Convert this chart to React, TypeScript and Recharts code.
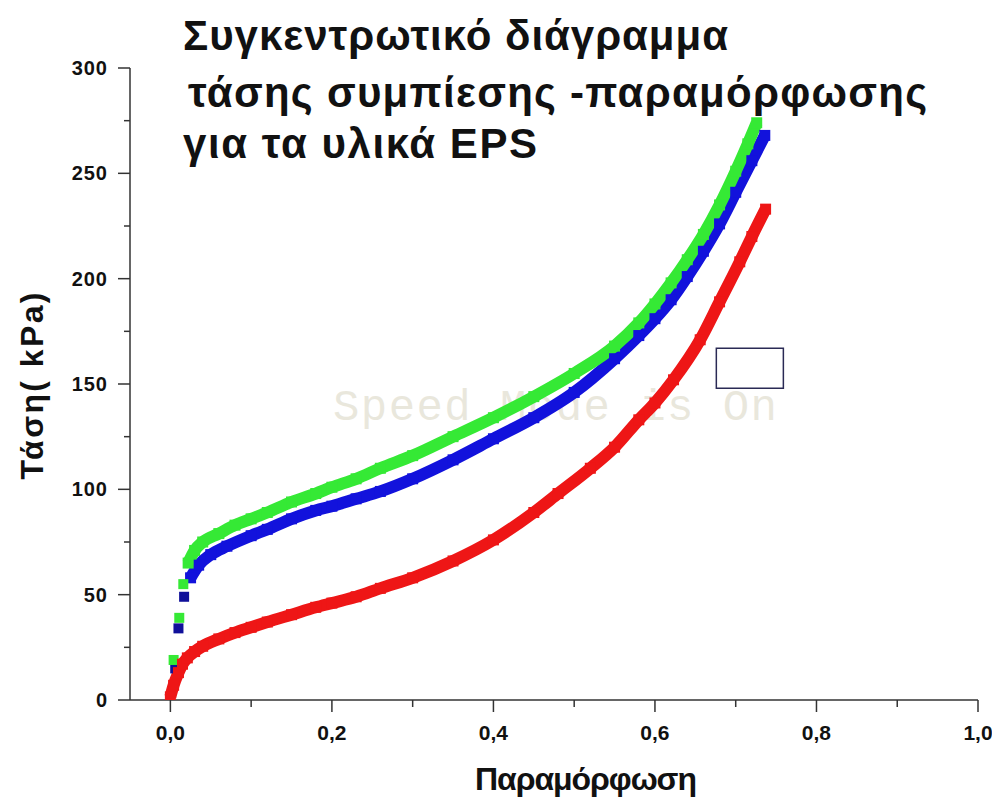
import { ComposedChart, Line, Scatter, XAxis, YAxis, ReferenceArea } from "recharts";

// strain (x) / stress in kPa (y)
const greenStartStrain = [0.004, 0.011, 0.016];
const greenStartStress = [19, 39, 55];
const greenStrain = [0.022, 0.03, 0.04, 0.06, 0.08, 0.1, 0.12, 0.15, 0.18, 0.2, 0.23, 0.26, 0.3, 0.35, 0.4, 0.45, 0.5, 0.55, 0.58, 0.6, 0.62, 0.64, 0.66, 0.68, 0.7, 0.715, 0.726];
const greenStress = [65, 71, 75, 79, 83, 86, 89, 94, 98, 101, 105, 110, 116, 125, 134, 144, 155, 168, 179, 188, 198, 209, 221, 235, 251, 264, 274];

const blueStartStrain = [0.006, 0.01, 0.017];
const blueStartStress = [15, 34, 49];
const blueStrain = [0.025, 0.035, 0.05, 0.07, 0.1, 0.12, 0.15, 0.18, 0.2, 0.23, 0.26, 0.3, 0.35, 0.4, 0.45, 0.5, 0.55, 0.58, 0.6, 0.62, 0.64, 0.66, 0.68, 0.7, 0.72, 0.736];
const blueStress = [58, 64, 69, 73, 78, 81, 86, 90, 92, 95.5, 99, 105, 114, 124, 134, 146, 162, 173, 181, 190, 201, 213, 226, 241, 256, 268];

const redStrain = [0.0, 0.004, 0.01, 0.015, 0.021, 0.03, 0.04, 0.06, 0.08, 0.1, 0.12, 0.15, 0.18, 0.2, 0.23, 0.26, 0.3, 0.35, 0.4, 0.45, 0.48, 0.52, 0.55, 0.58, 0.6, 0.623, 0.656, 0.68, 0.705, 0.72, 0.737];
const redStress = [1.5, 7, 13, 17, 20, 23, 25.5, 29, 32, 34.5, 37, 40.5, 44, 46, 49, 53, 58, 66, 76, 89, 98, 110, 120, 133, 141, 152, 171, 189, 208, 220, 233];

const xTicks = [0, 0.1, 0.2, 0.3, 0.4, 0.5, 0.6, 0.7, 0.8, 0.9, 1.0];
const yTicks = [0, 25, 50, 75, 100, 125, 150, 175, 200, 225, 250, 275, 300];

// empty legend frame
const legendBoxStrain = [0.676, 0.759];
const legendBoxStress = [148, 167];

const GREEN = "#35e935";
const BLUE = "#1212dc";
const RED = "#ee1616";
const AXIS = "#333333";
const FONT = "'Liberation Sans', Arial, sans-serif";

const toPoints = (xs: number[], ys: number[]) => xs.map((x, i) => ({ x, y: ys[i] }));

const square = (size: number, color: string) => (props: any) => {
	const { cx, cy, index } = props;
	if (cx == null || cy == null) return <g key={`s-${index}`} />;
	return <rect key={`s-${index}`} x={cx - size / 2} y={cy - size / 2} width={size} height={size} fill={color} />;
};

const XTick = (props: any) => {
	const { x, y, payload } = props;
	const major = Math.round(payload.value * 10) % 2 === 0;
	return (
		<g>
			<line x1={x} y1={y} x2={x} y2={y + (major ? 12 : 7)} stroke={AXIS} strokeWidth={1.5} />
			{major && (
				<text x={x} y={y + 40} textAnchor='middle' fontFamily={FONT} fontWeight='bold' fontSize={21} fill='#111'>
					{payload.value.toFixed(1).replace(".", ",")}
				</text>
			)}
		</g>
	);
};

const YTick = (props: any) => {
	const { x, y, payload } = props;
	const major = payload.value % 50 === 0;
	return (
		<g>
			<line x1={x - (major ? 12 : 6)} y1={y} x2={x} y2={y} stroke={AXIS} strokeWidth={1.5} />
			{major && (
				<text x={x - 22} y={y + 7} textAnchor='end' fontFamily={FONT} fontWeight='bold' fontSize={20} letterSpacing={1} fill='#111'>
					{payload.value}
				</text>
			)}
		</g>
	);
};

const App = () => {
	return (
		<ComposedChart width={992} height={801} margin={{ top: 60, right: 22, left: 22, bottom: 9 }}>
			<XAxis
				type='number'
				dataKey='x'
				domain={[-0.05, 1.0]}
				ticks={xTicks}
				interval={0}
				allowDataOverflow
				allowDuplicatedCategory={false}
				height={100}
				tickSize={0}
				tickMargin={0}
				tickLine={false}
				tick={<XTick />}
				axisLine={{ stroke: AXIS, strokeWidth: 1.5 }}
			/>
			<YAxis
				type='number'
				dataKey='y'
				domain={[0, 300]}
				ticks={yTicks}
				interval={0}
				allowDataOverflow
				width={100}
				tickSize={0}
				tickMargin={0}
				tickLine={false}
				tick={<YTick />}
				axisLine={{ stroke: AXIS, strokeWidth: 1.5 }}
			/>
			<ReferenceArea
				x1={legendBoxStrain[0]}
				x2={legendBoxStrain[1]}
				y1={legendBoxStress[0]}
				y2={legendBoxStress[1]}
				fill='#ffffff'
				fillOpacity={1}
				stroke='#2a2a55'
				strokeWidth={1.5}
			/>
			<Line data={toPoints(blueStrain, blueStress)} dataKey='y' type='monotone' stroke={BLUE} strokeWidth={12} dot={square(11, BLUE)} activeDot={false} isAnimationActive={false} />
			<Scatter data={toPoints(blueStartStrain, blueStartStress)} dataKey='y' shape={square(10, "#10109a")} isAnimationActive={false} />
			<Line data={toPoints(greenStrain, greenStress)} dataKey='y' type='monotone' stroke={GREEN} strokeWidth={12} dot={square(11, GREEN)} activeDot={false} isAnimationActive={false} />
			<Scatter data={toPoints(greenStartStrain, greenStartStress)} dataKey='y' shape={square(10, GREEN)} isAnimationActive={false} />
			<Line data={toPoints(redStrain, redStress)} dataKey='y' type='monotone' stroke={RED} strokeWidth={12} dot={square(11, RED)} activeDot={false} isAnimationActive={false} />

			<text x={325} y={412} fontFamily="'Liberation Mono', 'Courier New', monospace" fontSize={44} fill='#e6e3d6' fillOpacity={0.85} textLength={444}>
				Speed Mode is On
			</text>

			<text x={175} y={42} fontFamily={FONT} fontWeight='bold' fontSize={42} fill='#111' textLength={545}>
				Συγκεντρωτικό διάγραμμα
			</text>
			<text x={180} y={99} fontFamily={FONT} fontWeight='bold' fontSize={42} fill='#111' textLength={739}>
				τάσης συμπίεσης -παραμόρφωσης
			</text>
			<text x={175} y={150} fontFamily={FONT} fontWeight='bold' fontSize={42} fill='#111' textLength={354}>
				για τα υλικά EPS
			</text>

			<text x={35} y={378} transform='rotate(-90 35 378)' textAnchor='middle' fontFamily={FONT} fontWeight='bold' fontSize={32} fill='#111' textLength={187}>
				Τάση( kPa)
			</text>
			<text x={578} y={782} textAnchor='middle' fontFamily={FONT} fontWeight='bold' fontSize={32} fill='#111' textLength={222}>
				Παραμόρφωση
			</text>
		</ComposedChart>
	);
};

export default App;
